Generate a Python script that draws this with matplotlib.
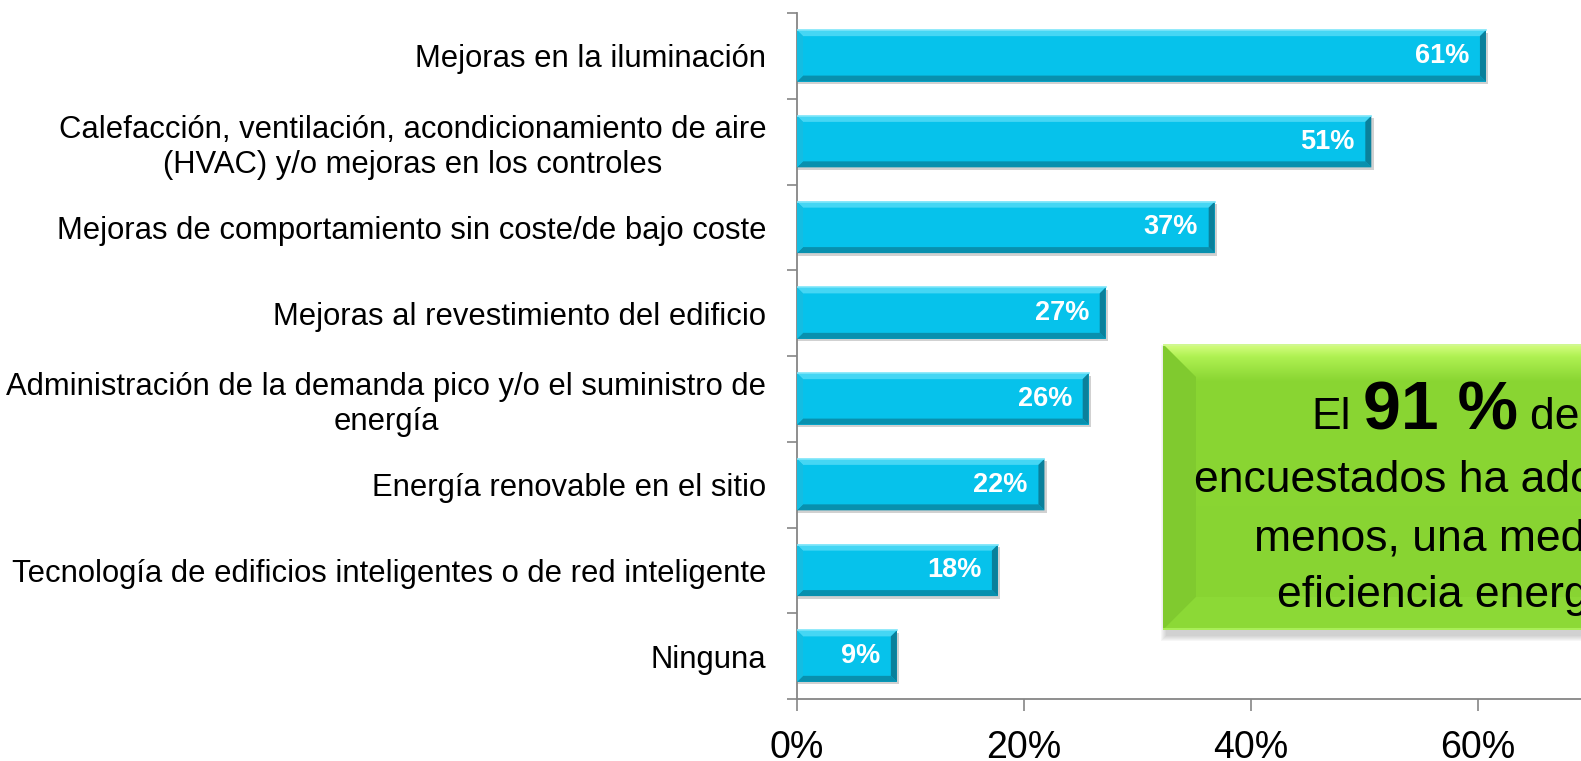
import numpy as np
import matplotlib
matplotlib.use("Agg")
import matplotlib.pyplot as plt
from matplotlib.patches import Polygon, Rectangle
from matplotlib.colors import to_rgb

plt.rcParams['font.family'] = ['Liberation Sans', 'DejaVu Sans']

# datos del grafico
categories = [
    "Mejoras en la iluminación",
    "Calefacción, ventilación, acondicionamiento de aire\n(HVAC) y/o mejoras en los controles",
    "Mejoras de comportamiento sin coste/de bajo coste",
    "Mejoras al revestimiento del edificio",
    "Administración de la demanda pico y/o el suministro de\nenergía",
    "Energía renovable en el sitio",
    "Tecnología de edificios inteligentes o de red inteligente",
    "Ninguna",
]
values = [60.7, 50.6, 36.8, 27.2, 25.7, 21.8, 17.7, 8.8]
xticks = [0, 20, 40, 60, 80]
box_lines = ["encuestados ha adoptado, al", "menos, una medida de", "eficiencia energética"]
box_first = ["El", "91 %", "de los"]

W, H = 1581, 761
gray = '#868686'

fig = plt.figure(figsize=(W / 100, H / 100), dpi=100)
# el eje se sale por la derecha, como en la diapositiva original
ax = fig.add_axes([797 / W, 62 / H, 908 / W, 686 / H])

y = np.arange(len(categories))
bar_h = 0.6
ax.barh(y, values, height=bar_h, color='#06C2EB', zorder=2)
ax.set_xlim(0, 80)
ax.set_ylim(len(categories) - 0.5, -0.5)

# biselado de las barras (6 px)
sx = 908 / 80
sy = 686 / len(categories)
bx, by = 6 / sx, 6 / sy
for i, v in enumerate(values):
    yt, yb = i - bar_h / 2, i + bar_h / 2
    ax.add_patch(Rectangle((0, yt + 2.5 / sy), v + 2.5 / sx, bar_h, color='#9a9a9a', alpha=0.45, zorder=1, lw=0))
    ax.add_patch(Polygon([(0, yt), (v, yt), (v - bx, yt + by), (bx, yt + by)], color='#45D6F4', zorder=3, lw=0))
    ax.add_patch(Polygon([(0, yb), (v, yb), (v - bx, yb - by), (bx, yb - by)], color='#0890AE', zorder=3, lw=0))
    ax.add_patch(Polygon([(v, yt), (v, yb), (v - bx, yb - by), (v - bx, yt + by)], color='#0A809B', zorder=3, lw=0))
    ax.add_patch(Polygon([(0, yt), (0, yb), (bx, yb - by), (bx, yt + by)], color='#14BDE2', zorder=3, lw=0))
    ax.plot([0, v], [yt, yt], color='#7FE6FA', lw=1.2, zorder=4)
    ax.annotate(f"{v:.0f}%", xy=(v, i), xytext=(-12, 0), textcoords='offset points',
                ha='right', va='center', color='white', fontweight='bold', fontsize=19.5, zorder=5)

ax.set_yticks(y)
ax.set_yticklabels(categories, fontsize=22.3)
for t in ax.get_yticklabels():
    t.set_multialignment('center')
ax.set_yticks(np.arange(len(categories) + 1) - 0.5, minor=True)
ax.tick_params(axis='y', which='major', length=0, pad=22)
ax.tick_params(axis='y', which='minor', length=7.2, width=1.2, color=gray)
ax.set_xticks(xticks)
ax.set_xticklabels([f"{t}%" for t in xticks], fontsize=27)
ax.tick_params(axis='x', length=8.6, width=1.2, color=gray, pad=14)
for s in ['top', 'right']:
    ax.spines[s].set_visible(False)
for s in ['left', 'bottom']:
    ax.spines[s].set_color(gray)
    ax.spines[s].set_linewidth(1.3)

# cuadro verde
x0, x1 = 1163, 1797
y0, y1 = H - 630, H - 344
w, h = x1 - x0, y1 - y0
for k in range(6):
    fig.patches.append(Rectangle(((x0 + 3 - k) / W, (y0 - 6 - k) / H), (w + 2 * k) / W, (h + 2 * k) / H,
                                 transform=fig.transFigure, color='#606060', alpha=0.05, lw=0, zorder=3))

bax = fig.add_axes([x0 / W, y0 / H, w / W, h / H])
bax.set_zorder(5)
bax.set_xlim(0, w)
bax.set_ylim(0, h)
bax.axis('off')
top_c, mid_c, main_c, bot_c = [np.array(to_rgb(c)) for c in ['#D6FE82', '#AFF152', '#8AD633', '#88D432']]
grad = np.zeros((h, 1, 3))
for r in range(h):
    if r < 12:
        c = top_c + (mid_c - top_c) * r / 12
    elif r < 36:
        c = mid_c + (main_c - mid_c) * (r - 12) / 24
    else:
        c = main_c + (bot_c - main_c) * (r - 36) / (h - 36)
    grad[r, 0] = c
bax.imshow(grad, extent=(0, w, 0, h), aspect='auto', origin='upper', zorder=1)
b = 33
bax.add_patch(Polygon([(0, 0), (b, b), (b, h - b), (0, h)], color='#80CA2F', lw=0, zorder=2))
bax.add_patch(Polygon([(0, 0), (w, 0), (w - b, b), (b, b)], color='#8CD936', lw=0, zorder=2))
bax.plot([0, w], [1, 1], color='#A8EE58', lw=1.5, zorder=3)
bax.plot([0, w], [h - 1, h - 1], color='#D0F890', lw=1.5, zorder=3)

# texto del cuadro, centrado en x = 1480
cx = 1480
fs, fs_big = 32, 49
renderer = fig.canvas.get_renderer()
parts = []
for s, size, weight in zip(box_first, [fs, fs_big, fs], ['normal', 'bold', 'normal']):
    t = fig.text(0, (H - 429) / H, s, fontsize=size, fontweight=weight, ha='left', va='baseline', zorder=10)
    parts.append(t)
gap = 0.278 * fs * 100 / 72
widths = [t.get_window_extent(renderer).width for t in parts]
total = sum(widths) + gap * (len(parts) - 1)
xpos = cx - total / 2
for t, wd in zip(parts, widths):
    t.set_x(xpos / W)
    xpos += wd + gap

for s, yb in zip(box_lines, [492, 550, 607]):
    fig.text(cx / W, (H - yb) / H, s, fontsize=fs, ha='center', va='baseline', zorder=10)

fig.savefig("out.png", dpi=100)
